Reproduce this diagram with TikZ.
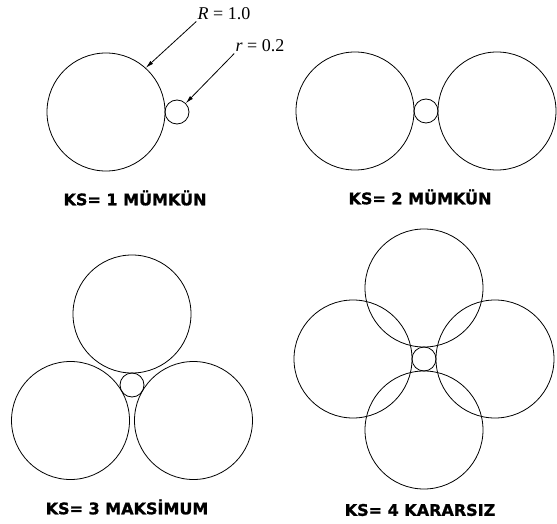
\documentclass[tikz,border=0pt]{standalone}
\usepackage{fontspec}
\newfontfamily\ksfont{DejaVu Sans}[BoldFeatures={FakeBold=1.2}]
\newfontfamily\dimfont{Liberation Serif}
\usepackage{tikz}
\usetikzlibrary{arrows.meta,positioning,calc}

\begin{document}
\begin{tikzpicture}[x=1pt, y=-1pt, line width=0.8pt]
\tikzset{ball/.style={draw, circle, inner sep=0pt, minimum size=118pt},
         pore/.style={draw, circle, inner sep=0pt, minimum size=24pt},
         caption/.style={font=\fontsize{16}{19}\selectfont\ksfont\bfseries},
         dim/.style={font=\fontsize{18}{21}\selectfont\dimfont, inner sep=1pt}}
\useasboundingbox (0,0) rectangle (557,524);
% KS = 1
\node[ball] (a1) at (106,112) {};
\node[pore] (a0) at (177,112) {};
\node[dim] (lblR) at (224,14) {\textit{R} = 1.0};
\node[dim] (lblr) at (260,46) {\textit{r} = 0.2};
\draw[-{Latex[length=8pt,width=4pt]}] (lblR.south west) -- (a1.48);
\draw[-{Latex[length=8pt,width=4pt]}] (lblr.south west) -- (a0.45);
\node[caption] (ks1) at (135,198) {KS= 1 MÜMKÜN};
% KS = 2
\node[pore] (b0) at (426,111) {};
\node[ball] (b1) at (355,111) {};
\node[ball] (b2) at (497,111) {};
\node[caption] (ks2) at (420,197) {KS= 2 MÜMKÜN};
% KS = 3
\node[pore] (c0) at (132,385) {};
\foreach \a [count=\i] in {90,210,330}
  \node[ball] (c\i) at ($(c0)+(\a:71pt)$) {};
\node[caption] (ks3) at (127,507) {KS= 3 MAKSİMUM};
% KS = 4
\node[pore] (d0) at (424,359) {};
\foreach \a [count=\i] in {90,180,270,0}
  \node[ball] (d\i) at ($(d0)+(\a:71pt)$) {};
\node[caption] (ks4) at (420,510) {KS= 4 KARARSIZ};
\end{tikzpicture}
\end{document}
